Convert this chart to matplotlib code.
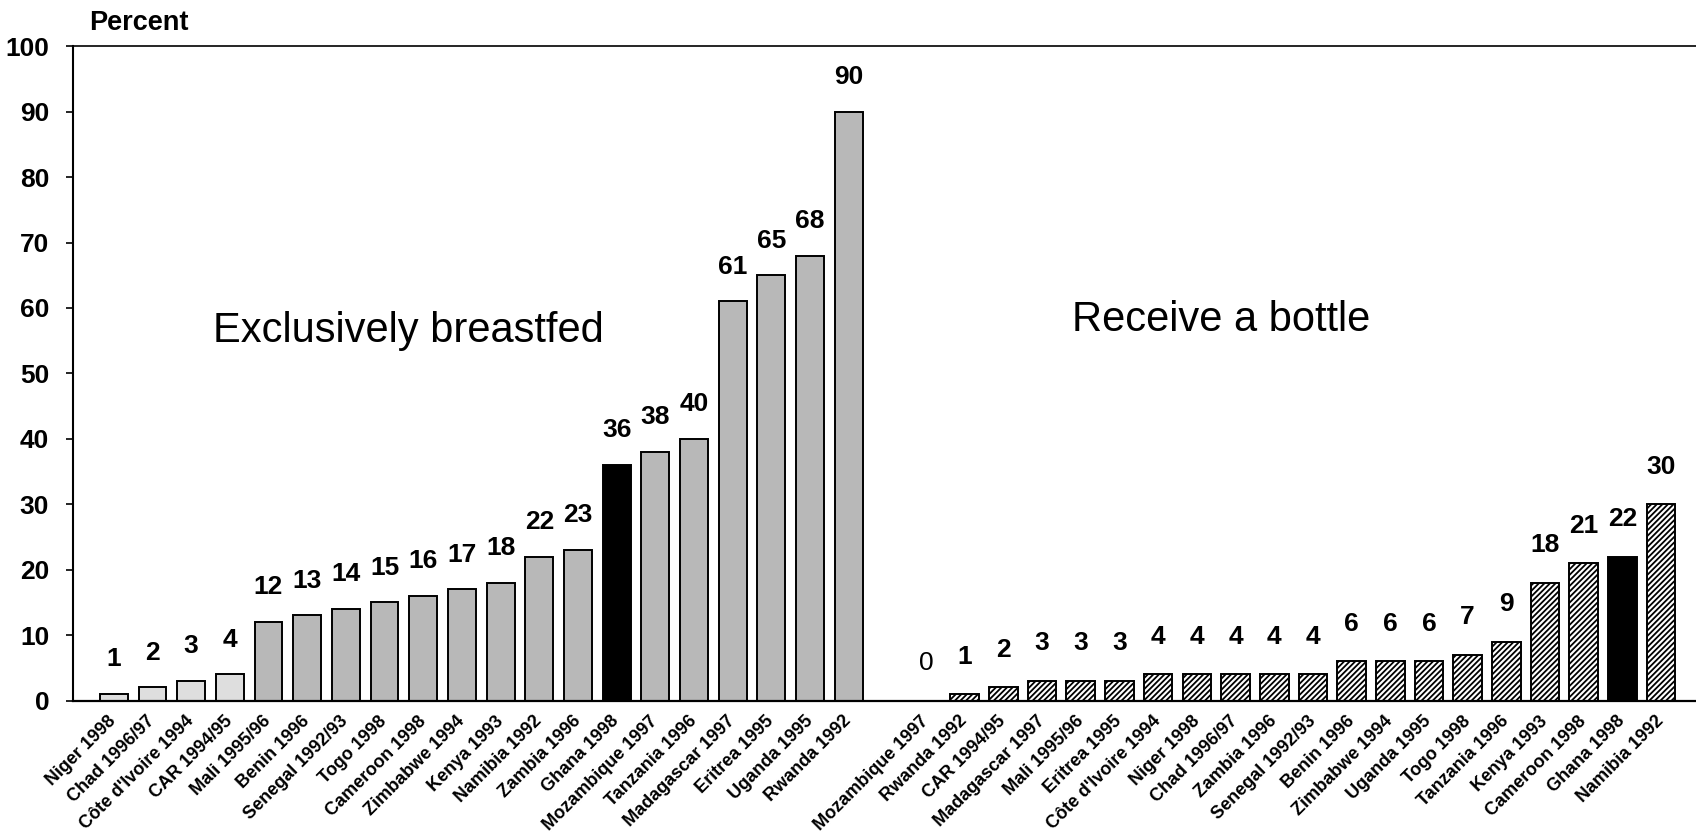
import numpy as np
import matplotlib
matplotlib.use("Agg")
import matplotlib.pyplot as plt

plt.rcParams['font.family'] = ['Liberation Sans', 'DejaVu Sans']
plt.rcParams['hatch.linewidth'] = 1.3

# 모유 수유 (왼쪽)
breastfed_labels = ["Niger 1998", "Chad 1996/97", "Côte d'Ivoire 1994", "CAR 1994/95",
                    "Mali 1995/96", "Benin 1996", "Senegal 1992/93", "Togo 1998",
                    "Cameroon 1998", "Zimbabwe 1994", "Kenya 1993", "Namibia 1992",
                    "Zambia 1996", "Ghana 1998", "Mozambique 1997", "Tanzania 1996",
                    "Madagascar 1997", "Eritrea 1995", "Uganda 1995", "Rwanda 1992"]
breastfed_values = [1, 2, 3, 4, 12, 13, 14, 15, 16, 17, 18, 22, 23, 36, 38, 40, 61, 65, 68, 90]

# 젖병 (오른쪽)
bottle_labels = ["Mozambique 1997", "Rwanda 1992", "CAR 1994/95", "Madagascar 1997",
                 "Mali 1995/96", "Eritrea 1995", "Côte d'Ivoire 1994", "Niger 1998",
                 "Chad 1996/97", "Zambia 1996", "Senegal 1992/93", "Benin 1996",
                 "Zimbabwe 1994", "Uganda 1995", "Togo 1998", "Tanzania 1996",
                 "Kenya 1993", "Cameroon 1998", "Ghana 1998", "Namibia 1992"]
bottle_values = [0, 1, 2, 3, 3, 3, 4, 4, 4, 4, 4, 6, 6, 6, 7, 9, 18, 21, 22, 30]

highlight = "Ghana 1998"

fig = plt.figure(figsize=(16.96, 8.4), dpi=100)
ax = fig.add_axes([0.0429, 0.166, 0.957, 0.779])

x_left = np.arange(len(breastfed_values))
x_right = np.arange(len(bottle_values)) + len(breastfed_values) + 1

left_colors = []
for i, lab in enumerate(breastfed_labels):
    if lab == highlight:
        left_colors.append('black')
    elif i < 4:
        left_colors.append('#dedede')
    else:
        left_colors.append('#b8b8b8')

ax.bar(x_left, breastfed_values, width=0.72, color=left_colors,
       edgecolor='black', linewidth=1.4)

for xi, v, lab in zip(x_right, bottle_values, bottle_labels):
    if v == 0:
        continue
    if lab == highlight:
        ax.bar(xi, v, width=0.74, color='black', edgecolor='black', linewidth=1.4)
    else:
        ax.bar(xi, v, width=0.74, color='white', edgecolor='black',
               hatch='//////', linewidth=1.4)

# 값 라벨
for xi, v in zip(x_left, breastfed_values):
    ax.annotate(str(v), (xi, v), xytext=(0, 25), textcoords='offset points',
                ha='center', va='center', fontsize=19, fontweight='bold')
for xi, v in zip(x_right, bottle_values):
    ax.annotate(str(v), (xi, v), xytext=(0, 27), textcoords='offset points',
                ha='center', va='center', fontsize=19,
                fontweight='normal' if v == 0 else 'bold')

ax.set_xlim(-1.06, 40.9)
ax.set_ylim(0, 100)
ax.set_yticks(np.arange(0, 101, 10))
ax.tick_params(axis='y', direction='out', length=5, width=1.2, pad=12,
               labelsize=19)
for t in ax.get_yticklabels():
    t.set_fontweight('bold')

ax.set_xticks(np.concatenate([x_left, x_right]))
ax.set_xticklabels(breastfed_labels + bottle_labels, rotation=45, ha='right',
                   va='center', rotation_mode='anchor', fontsize=13,
                   fontweight='bold')
ax.tick_params(axis='x', length=0, pad=13)

ax.spines['right'].set_visible(False)
ax.spines['left'].set_linewidth(1.5)
ax.spines['bottom'].set_linewidth(1.6)
ax.spines['top'].set_linewidth(1.2)

ax.text(2.57, 56.5, "Exclusively breastfed", fontsize=30, ha='left', va='center')
ax.text(24.78, 58.2, "Receive a bottle", fontsize=30, ha='left', va='center')

fig.text(89 / 1696, 1 - 23 / 840, "Percent", fontsize=19.5, fontweight='bold',
         ha='left', va='center')

plt.savefig('out.png', dpi=100)
